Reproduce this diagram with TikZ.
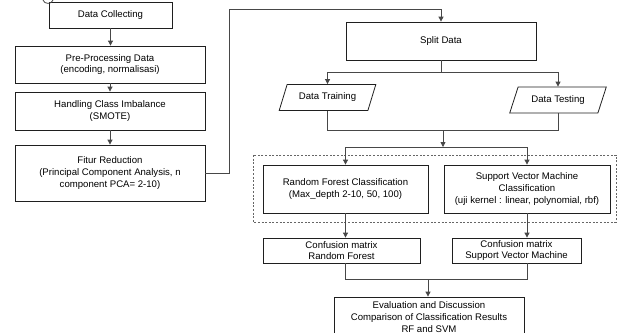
\documentclass[tikz,border=0pt]{standalone}
\usepackage{fontspec}
\setmainfont{Liberation Sans}
\usetikzlibrary{arrows.meta,shapes.geometric}
\begin{document}
\begin{tikzpicture}[x=1bp,y=-1bp,
  font=\fontsize{9.6bp}{11.7bp}\selectfont,
  box/.style={draw=black!88, line width=0.8bp, align=center, inner sep=1bp},
  iobox/.style={draw=black!88, line width=0.8bp, trapezium, trapezium left angle=62,
    trapezium right angle=118, trapezium stretches=true, inner sep=1bp},
  conn/.style={draw=black!72, line width=0.8bp},
  arr/.style={conn, -{Triangle[length=5bp,width=5bp]}},
  group/.style={draw=black!60, line width=0.7bp, dash pattern=on 2bp off 1.6bp}]
\clip (0,0) rectangle (620,332);
\useasboundingbox (0,0) rectangle (620,332);
% left column
\node[box, minimum width=123bp, minimum height=26bp] (dc) at (110.5,15) {Data Collecting};
\node[box, minimum width=190bp, minimum height=37bp] (pp) at (110,64.5) {Pre-Processing Data\\(encoding, normalisasi)};
\node[box, minimum width=190bp, minimum height=38bp] (hc) at (110,111) {Handling Class Imbalance\\(SMOTE)};
\node[box, minimum width=190bp, minimum height=56bp] (fr) at (110,173) {Fitur Reduction\\(Principal Component Analysis, n\\component PCA= 2-10)};
% right part
\node[box, minimum width=190bp, minimum height=38bp] (sd) at (441,41) {Split Data};
\node[iobox, minimum width=97bp, minimum height=26bp] (tr) at (327.5,97.5) {Data Training};
\node[iobox, minimum width=97bp, minimum height=26bp] (te) at (558,100) {Data Testing};
\node[box, minimum width=165bp, minimum height=48bp] (rf) at (345.5,189) {Random Forest Classification\\(Max\_depth 2-10, 50, 100)};
\node[box, minimum width=166bp, minimum height=48bp] (svm) at (527,189) {Support Vector Machine\\Classification\\(uji kernel : linear, polynomial, rbf)};
\node[box, minimum width=157bp, minimum height=25bp] (crf) at (341.5,250.5) {Confusion matrix\\Random Forest};
\node[box, minimum width=129bp, minimum height=25bp] (csvm) at (516.5,250.5) {Confusion matrix\\Support Vector Machine};
\node[box, minimum width=190bp, minimum height=40bp] (ev) at (429,317) {Evaluation and Discussion\\Comparison of Classification Results\\RF and SVM};
% dashed group
\draw[group] (253,155) rectangle (616,222);
% top fragment
\draw[conn] (43,0) .. controls (44,4.5) and (52,4.5) .. (53,0);
% coordinates
\coordinate (t1) at (229,9);
\coordinate (s1) at (441,72);
\coordinate (m1) at (443,130);
\coordinate (m2) at (443,147);
\coordinate (m3) at (428,279);
% connectors
\draw[arr] (dc.south) -- (dc.south |- pp.north);
\draw[arr] (pp) -- (hc);
\draw[arr] (hc) -- (fr);
\draw[arr] (fr.east) -| (t1) -| (sd.north);
\draw[conn] (sd.south) -- (s1);
\draw[arr] (s1) -| (tr.north);
\draw[arr] (s1) -| (te.north);
\draw[conn] (tr.south) |- (te.south |- m1) -- (te.south);
\draw[arr] (m1) -- (m2);
\draw[conn] (rf.north |- m2) -- (svm.north |- m2);
\draw[arr] (rf.north |- m2) -- (rf.north);
\draw[arr] (svm.north |- m2) -- (svm.north);
\draw[arr] (rf.south) -- (rf.south |- crf.north);
\draw[arr] (svm.south) -- (svm.south |- csvm.north);
\draw[conn] (rf.south |- crf.south) |- (svm.south |- m3) -- (svm.south |- csvm.south);
\draw[arr] (m3) -- (m3 |- ev.north);
\end{tikzpicture}
\end{document}
